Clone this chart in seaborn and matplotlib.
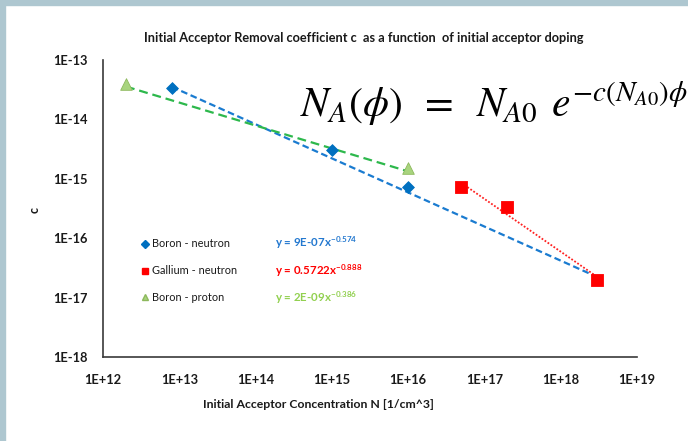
import numpy as np
import pandas as pd
import matplotlib
matplotlib.use("Agg")
import matplotlib.pyplot as plt
import seaborn as sns
from matplotlib.lines import Line2D
from matplotlib.patches import Rectangle
from matplotlib.ticker import LogLocator, NullFormatter, FixedLocator, FixedFormatter

sns.set_theme(style="white")
plt.rcParams['font.family'] = ['Lato', 'DejaVu Sans']
plt.rcParams['mathtext.fontset'] = 'custom'
plt.rcParams['mathtext.rm'] = 'Lato'
plt.rcParams['mathtext.bf'] = 'Lato:bold'
plt.rcParams['mathtext.it'] = 'Lato:italic'

# measured removal coefficients
series_names = ["Boron - neutron", "Gallium - neutron", "Boron - proton"]
boron_n_N = [8e12, 1e15, 1e16]
boron_n_c = [3.4e-14, 3.0e-15, 7.2e-16]
gallium_n_N = [5e16, 2e17, 3e18]
gallium_n_c = [7.2e-16, 3.4e-16, 2.0e-17]
boron_p_N = [2e12, 1e16]
boron_p_c = [4.0e-14, 1.5e-15]

# power-law fits c = a * N^b and the N range each fit is drawn over
fit_a = [9e-7, 0.5722, 2e-9]
fit_b = [-0.574, -0.888, -0.386]
fit_a_text = ["9E-07", "0.5722", "2E-09"]
fit_b_text = ["-0.574", "-0.888", "-0.386"]
fit_span = [(8e12, 3e18), (5e16, 3e18), (2e12, 1e16)]

x_ticks = [1e12, 1e13, 1e14, 1e15, 1e16, 1e17, 1e18, 1e19]
x_ticklabels = ["1E+12", "1E+13", "1E+14", "1E+15", "1E+16", "1E+17", "1E+18", "1E+19"]
y_ticks = [1e-18, 1e-17, 1e-16, 1e-15, 1e-14, 1e-13]
y_ticklabels = ["1E-18", "1E-17", "1E-16", "1E-15", "1E-14", "1E-13"]

marker_colors = {"Boron - neutron": "#0070C0", "Gallium - neutron": "#FF0000", "Boron - proton": "#A8D47E"}
marker_edges = {"Boron - neutron": "#0070C0", "Gallium - neutron": "#FF0000", "Boron - proton": "#8DB85C"}
marker_shapes = {"Boron - neutron": "D", "Gallium - neutron": "s", "Boron - proton": "^"}
marker_sizes = {"Boron - neutron": 36, "Gallium - neutron": 70, "Boron - proton": 70}
line_colors = {"Boron - neutron": "#1A7BD0", "Gallium - neutron": "#FF2020", "Boron - proton": "#2DB84C"}
line_styles = {"Boron - neutron": (0, (3, 1.6)), "Gallium - neutron": (0, (1, 1)), "Boron - proton": (0, (4, 2.2))}
eq_colors = {"Boron - neutron": "#2378CF", "Gallium - neutron": "#FF0000", "Boron - proton": "#92D050"}

points = pd.DataFrame({
    "N": boron_n_N + gallium_n_N + boron_p_N,
    "c": boron_n_c + gallium_n_c + boron_p_c,
    "series": [series_names[0]] * len(boron_n_N) + [series_names[1]] * len(gallium_n_N)
              + [series_names[2]] * len(boron_p_N),
})

fit_frames = []
for name, a, b, (lo, hi) in zip(series_names, fit_a, fit_b, fit_span):
    n = np.geomspace(lo, hi, 60)
    fit_frames.append(pd.DataFrame({"N": n, "c": a * n ** b, "series": name}))
fits = pd.concat(fit_frames, ignore_index=True)

W, H = 688, 441
fig = plt.figure(figsize=(W / 100, H / 100), dpi=100)
fig.patch.set_facecolor("white")
# slide frame
fig.patches.append(Rectangle((0, 1 - 5 / H), 1, 5 / H, transform=fig.transFigure,
                             color="#AEC7D0", zorder=0))
fig.patches.append(Rectangle((0, 0), 5 / W, 1, transform=fig.transFigure,
                             color="#AEC7D0", zorder=0))

ax = fig.add_axes([103 / W, 1 - 357 / H, (637 - 103) / W, (357 - 60) / H])
ax.set_xscale("log")
ax.set_yscale("log")

for name in series_names:
    sub = fits[fits["series"] == name]
    sns.lineplot(data=sub, x="N", y="c", ax=ax, color=line_colors[name],
                 linestyle=line_styles[name], linewidth=1.6 if name != "Gallium - neutron" else 1.3,
                 legend=False, zorder=2)

for name in series_names:
    sub = points[points["series"] == name]
    sns.scatterplot(data=sub, x="N", y="c", ax=ax, marker=marker_shapes[name],
                    color=marker_colors[name], edgecolor=marker_edges[name],
                    s=marker_sizes[name], linewidth=0.6, legend=False, zorder=3)

ax.set_xlabel("")
ax.set_ylabel("")
ax.set_xlim(x_ticks[0], x_ticks[-1])
ax.set_ylim(y_ticks[0], y_ticks[-1])
ax.xaxis.set_major_locator(FixedLocator(x_ticks))
ax.xaxis.set_major_formatter(FixedFormatter(x_ticklabels))
ax.yaxis.set_major_locator(FixedLocator(y_ticks))
ax.yaxis.set_major_formatter(FixedFormatter(y_ticklabels))
ax.xaxis.set_minor_locator(LogLocator(base=10, subs=np.arange(2, 10), numticks=20))
ax.yaxis.set_minor_locator(LogLocator(base=10, subs=np.arange(2, 10), numticks=20))
ax.xaxis.set_minor_formatter(NullFormatter())
ax.yaxis.set_minor_formatter(NullFormatter())

for side in ["top", "right"]:
    ax.spines[side].set_visible(False)
for side in ["left", "bottom"]:
    ax.spines[side].set_color("#3A3A3A")
    ax.spines[side].set_linewidth(1.2)

ax.tick_params(axis="both", which="major", direction="in", length=4, width=0.8,
               color="#3A3A3A", labelsize=9.3, labelcolor="#1A1A1A")
ax.tick_params(axis="both", which="minor", direction="in", length=2.5, width=0.6, color="#3A3A3A")
ax.tick_params(axis="y", pad=11)
ax.tick_params(axis="x", pad=12)
for lab in ax.get_xticklabels() + ax.get_yticklabels():
    lab.set_fontweight("bold")

fig.text(318 / W, 1 - 405 / H, "Initial Acceptor Concentration N [1/cm^3]", fontsize=8.8,
         fontweight="bold", color="#1A1A1A", ha="center", va="center")
fig.text(35 / W, 1 - 210 / H, "c", fontsize=9, fontweight="bold", color="#1A1A1A",
         rotation=90, ha="center", va="center")
fig.text(364 / W, 1 - 38 / H,
         "Initial Acceptor Removal coefficient c  as a function  of initial acceptor doping",
         fontsize=9.2, fontweight="bold", color="#1A1A1A", ha="center", va="center")

handles = [Line2D([], [], linestyle="none", marker=marker_shapes[n],
                  markerfacecolor=marker_colors[n], markeredgecolor=marker_edges[n],
                  markersize=5 if n != "Boron - neutron" else 3.8) for n in series_names]
leg = ax.legend(handles, series_names, loc="upper left", bbox_to_anchor=(0.058, 0.425),
                frameon=False, fontsize=7.9, handlelength=0.6, handletextpad=0.35,
                labelspacing=1.45, borderpad=0.2)
for t in leg.get_texts():
    t.set_color("#1A1A1A")

eq_y = [243, 270.5, 298]
for name, at, bt, yy in zip(series_names, fit_a_text, fit_b_text, eq_y):
    fig.text(275 / W, 1 - yy / H, "y = " + at + "x$^{\\mathbf{" + bt + "}}$",
             color=eq_colors[name], fontsize=8.3, fontweight="bold", va="center", ha="left")

fig.text(300 / W, 1 - 117 / H, r"$N_A(\phi)\;\;=\;\;N_{A0}\;\,e^{-c(N_{A0})\phi}$",
         fontsize=30, color="black", ha="left", va="baseline", math_fontfamily="stix")

fig.savefig("out.png", dpi=100, facecolor=fig.get_facecolor())
